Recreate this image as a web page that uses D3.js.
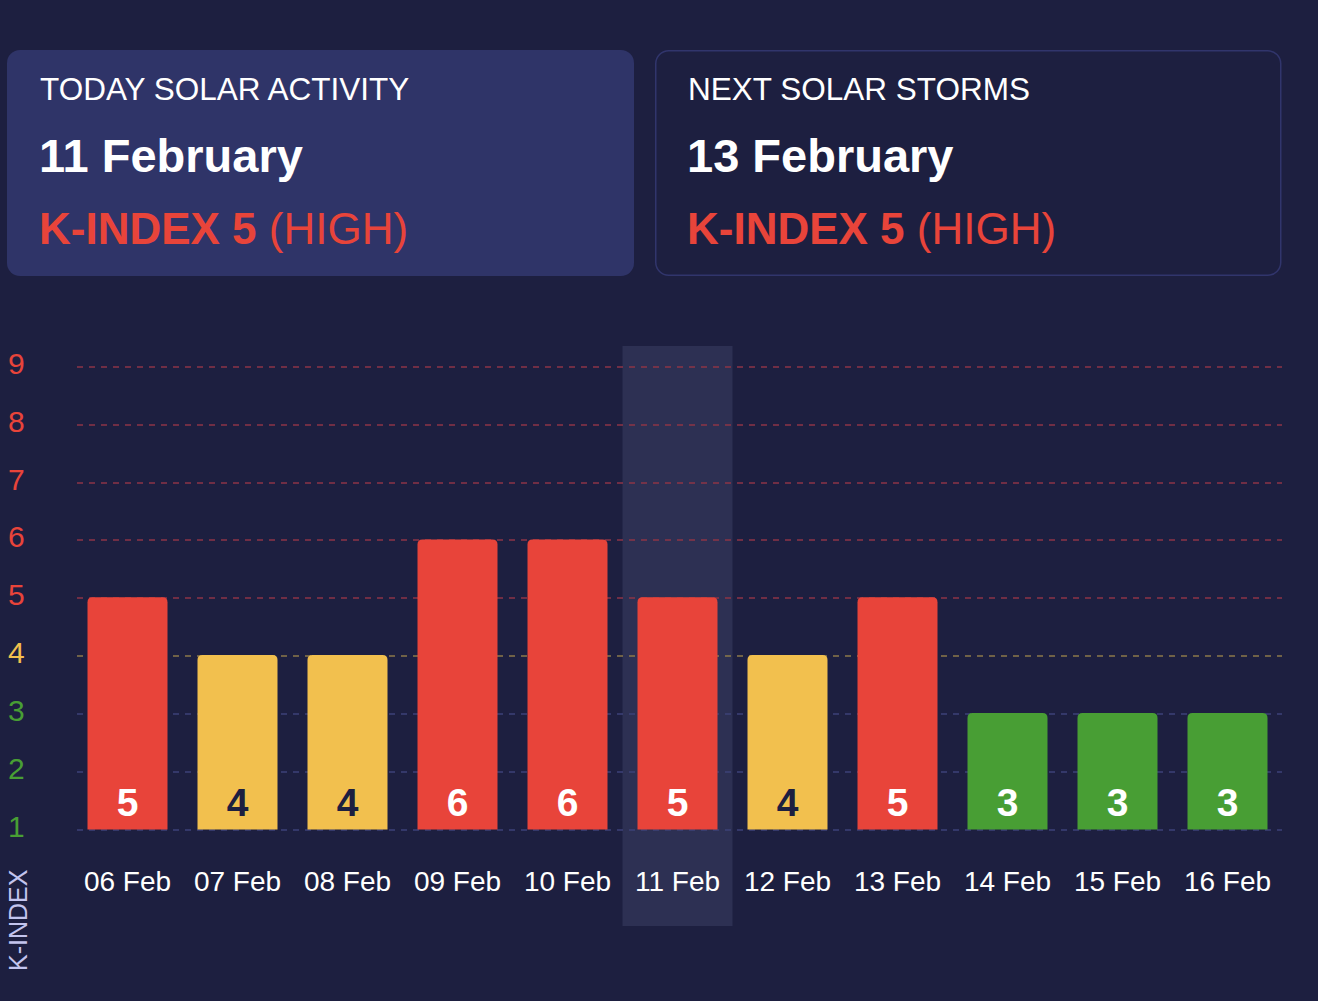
<!DOCTYPE html>
<html>
<head>
<meta charset="utf-8">
<script src="https://cdn.jsdelivr.net/npm/d3@7"></script>
<style>
  body { margin: 0; background: #1d1f40; }
  svg { display: block; font-family: "Liberation Sans", Arial, Helvetica, sans-serif; }
</style>
</head>
<body>
<svg></svg>
<script>
const width = 1318;
const height = 1001;

// data
const days = ["06 Feb", "07 Feb", "08 Feb", "09 Feb", "10 Feb", "11 Feb", "12 Feb", "13 Feb", "14 Feb", "15 Feb", "16 Feb"];
const kIndex = [5, 4, 4, 6, 6, 5, 4, 5, 3, 3, 3];
const yTicks = [1, 2, 3, 4, 5, 6, 7, 8, 9];
const today = "11 Feb";

const cardTitles = ["TODAY SOLAR ACTIVITY", "NEXT SOLAR STORMS"];
const cardDates = ["11 February", "13 February"];
const cardK = [5, 5];
const cardLevels = ["HIGH", "HIGH"];

const red = "#e8443a", yellow = "#f2c04e", green = "#489e34", bg = "#1d1f40";

function levelColor(v) {
    if (v >= 5) return red;
    if (v === 4) return yellow;
    return green;
}
function gridColor(v) {
    if (v >= 5) return "#8c3447";
    if (v === 4) return "#8c7a4a";
    return "#3d4278";
}

const svg = d3.select("svg")
    .attr("width", width)
    .attr("height", height)
    .attr("viewBox", [0, 0, width, height]);

svg.append("rect").attr("width", width).attr("height", height).attr("fill", bg);

// cards
const cards = svg.selectAll("g.card")
    .data(cardTitles)
    .join("g")
    .attr("class", "card")
    .attr("transform", (d, i) => `translate(${i === 0 ? 7 : 655},50)`);

cards.append("rect")
    .attr("x", (d, i) => i === 0 ? 0 : 0.75)
    .attr("y", (d, i) => i === 0 ? 0 : 0.75)
    .attr("width", (d, i) => i === 0 ? 627 : 625)
    .attr("height", (d, i) => i === 0 ? 226 : 224.5)
    .attr("rx", 13)
    .attr("fill", (d, i) => i === 0 ? "#2f3468" : "none")
    .attr("stroke", (d, i) => i === 0 ? "none" : "#31356c")
    .attr("stroke-width", 1.5);

cards.append("text")
    .attr("x", 33)
    .attr("y", 50)
    .attr("fill", "#ffffff")
    .attr("font-size", 31.5)
    .text(d => d);

cards.append("text")
    .attr("x", 32)
    .attr("y", 122)
    .attr("fill", "#ffffff")
    .attr("font-size", 47)
    .attr("font-weight", "bold")
    .text((d, i) => cardDates[i]);

const kText = cards.append("text")
    .attr("x", 32)
    .attr("y", 194)
    .attr("fill", red)
    .attr("font-size", 44);
kText.append("tspan")
    .attr("font-weight", "bold")
    .text((d, i) => `K-INDEX ${cardK[i]} `);
kText.append("tspan")
    .text((d, i) => `(${cardLevels[i]})`);

// chart
const x = d3.scaleBand()
    .domain(days)
    .range([72.5, 1282.5])
    .paddingInner(30 / 110)
    .paddingOuter(15 / 110);

const y = d3.scaleLinear()
    .domain([1, 9])
    .range([829.5, 367]);

// today highlight
svg.append("rect")
    .attr("x", x(today) - x.step() * x.paddingInner() / 2)
    .attr("y", 346)
    .attr("width", x.step())
    .attr("height", 580)
    .attr("fill", "#2d3053");

// grid
svg.append("g")
    .selectAll("line")
    .data(yTicks)
    .join("line")
    .attr("x1", 77)
    .attr("x2", 1282)
    .attr("y1", d => Math.round(y(d)))
    .attr("y2", d => Math.round(y(d)))
    .attr("stroke", d => gridColor(d))
    .attr("stroke-width", 1.6)
    .attr("stroke-dasharray", "6,6");

// y labels
svg.append("g")
    .selectAll("text")
    .data(yTicks)
    .join("text")
    .attr("x", 8)
    .attr("y", d => y(d) + 7)
    .attr("fill", d => levelColor(d))
    .attr("font-size", 30)
    .text(d => d);

svg.append("text")
    .attr("transform", "translate(27,971) rotate(-90)")
    .attr("fill", "#c3c4ee")
    .attr("font-size", 25)
    .text("K-INDEX");

// bars
const r = 5;
function barPath(x0, y0, w, y1) {
    return `M${x0},${y1}V${y0 + r}Q${x0},${y0} ${x0 + r},${y0}H${x0 + w - r}Q${x0 + w},${y0} ${x0 + w},${y0 + r}V${y1}Z`;
}

svg.append("g")
    .selectAll("path")
    .data(days)
    .join("path")
    .attr("d", (d, i) => barPath(x(d), y(kIndex[i]) - 1, x.bandwidth(), y(1)))
    .attr("fill", (d, i) => levelColor(kIndex[i]));

svg.append("g")
    .selectAll("text")
    .data(days)
    .join("text")
    .attr("x", d => x(d) + x.bandwidth() / 2)
    .attr("y", 816)
    .attr("text-anchor", "middle")
    .attr("font-size", 39)
    .attr("font-weight", "bold")
    .attr("fill", (d, i) => kIndex[i] === 4 ? bg : "#ffffff")
    .text((d, i) => kIndex[i]);

// x labels
svg.append("g")
    .selectAll("text")
    .data(days)
    .join("text")
    .attr("x", d => x(d) + x.bandwidth() / 2)
    .attr("y", 891)
    .attr("text-anchor", "middle")
    .attr("font-size", 28)
    .attr("fill", "#ffffff")
    .text(d => d);
</script>
</body>
</html>
